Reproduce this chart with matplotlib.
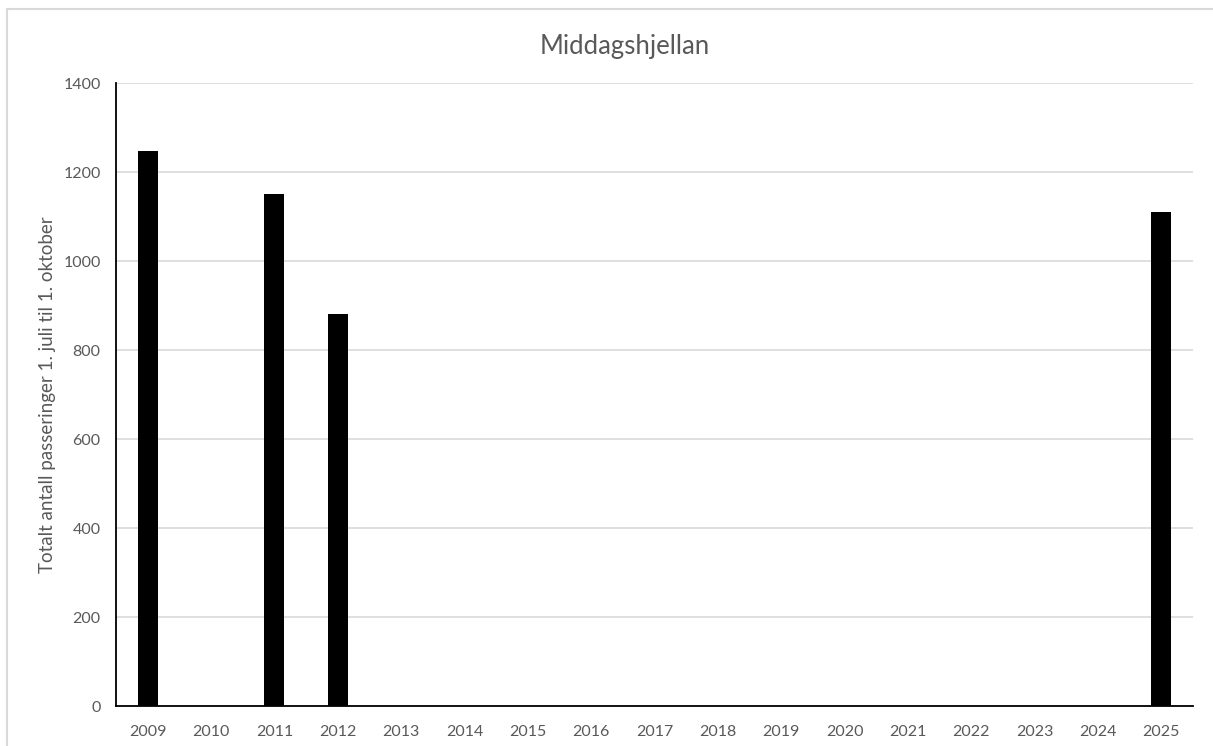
import numpy as np
import matplotlib
matplotlib.use('Agg')
import matplotlib.pyplot as plt
from matplotlib.patches import Rectangle

# Data
years = ['2009', '2010', '2011', '2012', '2013', '2014', '2015', '2016', '2017',
         '2018', '2019', '2020', '2021', '2022', '2023', '2024', '2025']
passages = [1247, 0, 1150, 880, 0, 0, 0, 0, 0, 0, 0, 0, 0, 0, 0, 0, 1111]
yticks = [0, 200, 400, 600, 800, 1000, 1200, 1400]

plt.rcParams['font.family'] = ['Lato', 'DejaVu Sans']
text_color = '#595959'

fig = plt.figure(figsize=(12.13, 7.46), dpi=100)
ax = fig.add_axes([0.0956, 0.0536, 0.8879, 0.8351])

# outer chart frame (light gray)
fig.patches.append(Rectangle((7 / 1213, -0.1), 1.2, 1 - 9 / 746 + 0.1,
                             transform=fig.transFigure, fill=False,
                             edgecolor='#d9d9d9', linewidth=1.5))

x = np.arange(len(years))
ax.bar(x, passages, width=0.32, color='black', zorder=3)

ax.set_xlim(-0.5, len(years) - 0.5)
ax.set_ylim(0, 1400)
ax.set_yticks(yticks)
ax.set_xticks(x)
ax.set_xticklabels(years)
ax.grid(axis='y', color='#d9d9d9', linewidth=1.2, zorder=0)
ax.tick_params(axis='both', length=0, labelsize=11.5, colors=text_color)
ax.tick_params(axis='x', pad=13.5)
ax.tick_params(axis='y', pad=11)

for side in ['top', 'right']:
    ax.spines[side].set_visible(False)
ax.spines['left'].set_color('black')
ax.spines['bottom'].set_color('black')
ax.spines['left'].set_linewidth(1.3)
ax.spines['bottom'].set_linewidth(1.3)

ax.set_ylabel('Totalt antall passeringer 1. juli til 1. oktober', fontsize=13.5,
              color=text_color, labelpad=5)
fig.text(0.515, 0.938, 'Middagshjellan', ha='center', va='center',
         fontsize=18.5, color=text_color)

fig.savefig('out.png', dpi=100)
